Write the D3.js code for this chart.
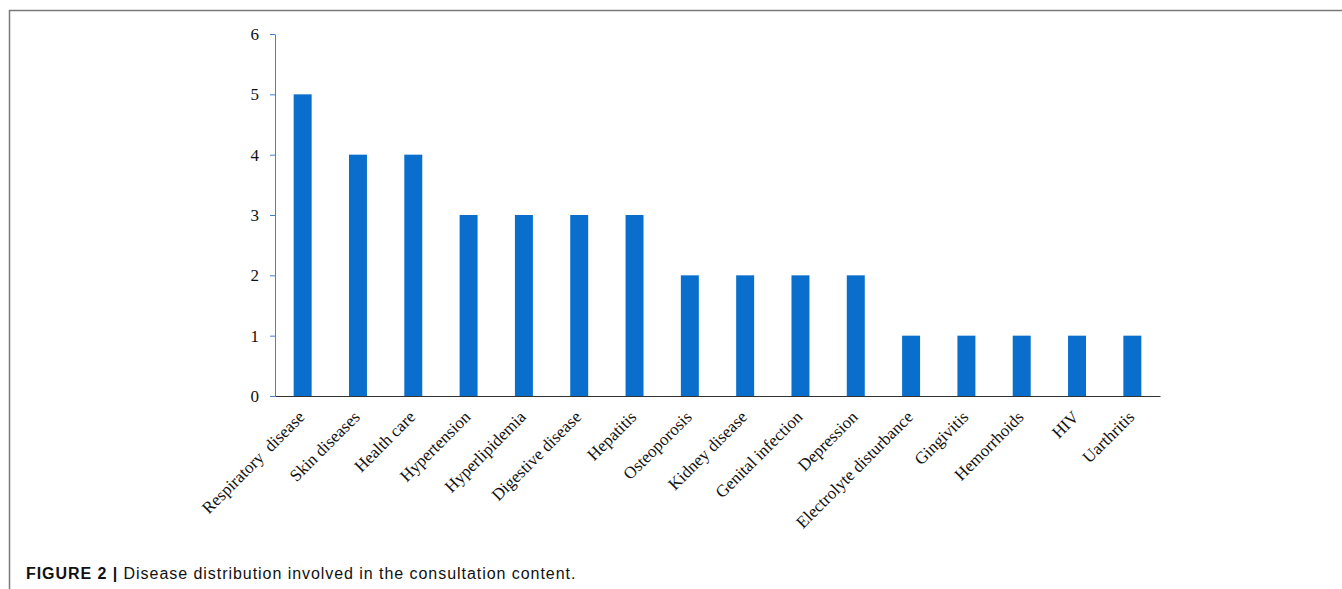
<!DOCTYPE html>
<html>
<head>
<meta charset="utf-8">
<script src="https://cdn.jsdelivr.net/npm/d3@7"></script>
<style>
  body { margin: 0; background: #fff; }
  svg { display: block; }
</style>
</head>
<body>
<div id="chart"></div>
<script>
var categories = ["Respiratory  disease", "Skin diseases", "Health care", "Hypertension",
  "Hyperlipidemia", "Digestive disease", "Hepatitis", "Osteoporosis", "Kidney disease",
  "Genital infection", "Depression", "Electrolyte disturbance", "Gingivitis",
  "Hemorrhoids", "HIV", "Uarthritis"];
var counts = [5, 4, 4, 3, 3, 3, 3, 2, 2, 2, 2, 1, 1, 1, 1, 1];
var yTicks = [0, 1, 2, 3, 4, 5, 6];

var width = 1342,
    height = 589;

var svg = d3.select('#chart').append('svg')
  .attr('width', width)
  .attr('height', height);

// frame lines (top and left)
svg.append('line')
  .attr('x1', 9).attr('x2', width).attr('y1', 10.5).attr('y2', 10.5)
  .attr('stroke', '#7a7a7a').attr('stroke-width', 1.5);
svg.append('line')
  .attr('x1', 9.5).attr('x2', 9.5).attr('y1', 10).attr('y2', height)
  .attr('stroke', '#7a7a7a').attr('stroke-width', 1.5);

var x = d3.scaleBand()
  .domain(categories)
  .range([275, 1160])
  .paddingInner(0.675)
  .paddingOuter(0.3375);

var y = d3.scaleLinear()
  .domain([0, 6])
  .range([396, 34]);

// bars
svg.selectAll('rect.bar')
  .data(counts)
  .enter().append('rect')
  .attr('class', 'bar')
  .attr('x', function(d, i) { return x(categories[i]); })
  .attr('y', function(d) { return y(d); })
  .attr('width', x.bandwidth())
  .attr('height', function(d) { return y(0) - y(d); })
  .attr('fill', '#0a6fcc');

// y axis
var yAxis = svg.append('g')
  .attr('transform', 'translate(275,0)')
  .call(d3.axisLeft(y).tickValues(yTicks).tickFormat(d3.format('d'))
    .tickSize(5).tickSizeOuter(0).tickPadding(11));
yAxis.selectAll('path, line').attr('stroke', '#4a7fcf');
yAxis.selectAll('text')
  .attr('font-family', '"Liberation Serif", "Times New Roman", serif')
  .attr('font-size', 17)
  .attr('fill', '#111');

// x axis
var xAxis = svg.append('g')
  .attr('transform', 'translate(0,396)')
  .call(d3.axisBottom(x).tickSize(0).tickSizeOuter(0).tickPadding(0));
xAxis.select('.domain').attr('stroke', '#333');
xAxis.selectAll('text')
  .attr('font-family', '"Liberation Serif", "Times New Roman", serif')
  .attr('font-size', 17)
  .attr('fill', '#111')
  .attr('text-anchor', 'end')
  .attr('dy', 0)
  .attr('transform', 'translate(3,22) rotate(-45)')
  .style('white-space', 'pre');

// caption
var caption = svg.append('text')
  .attr('x', 26)
  .attr('y', 579)
  .attr('font-family', '"Liberation Sans", Arial, sans-serif')
  .attr('font-size', 16)
  .attr('letter-spacing', 0.95)
  .attr('fill', '#111');
caption.append('tspan').attr('font-weight', 'bold').text('FIGURE 2 | ');
caption.append('tspan').text('Disease distribution involved in the consultation content.');
</script>
</body>
</html>
